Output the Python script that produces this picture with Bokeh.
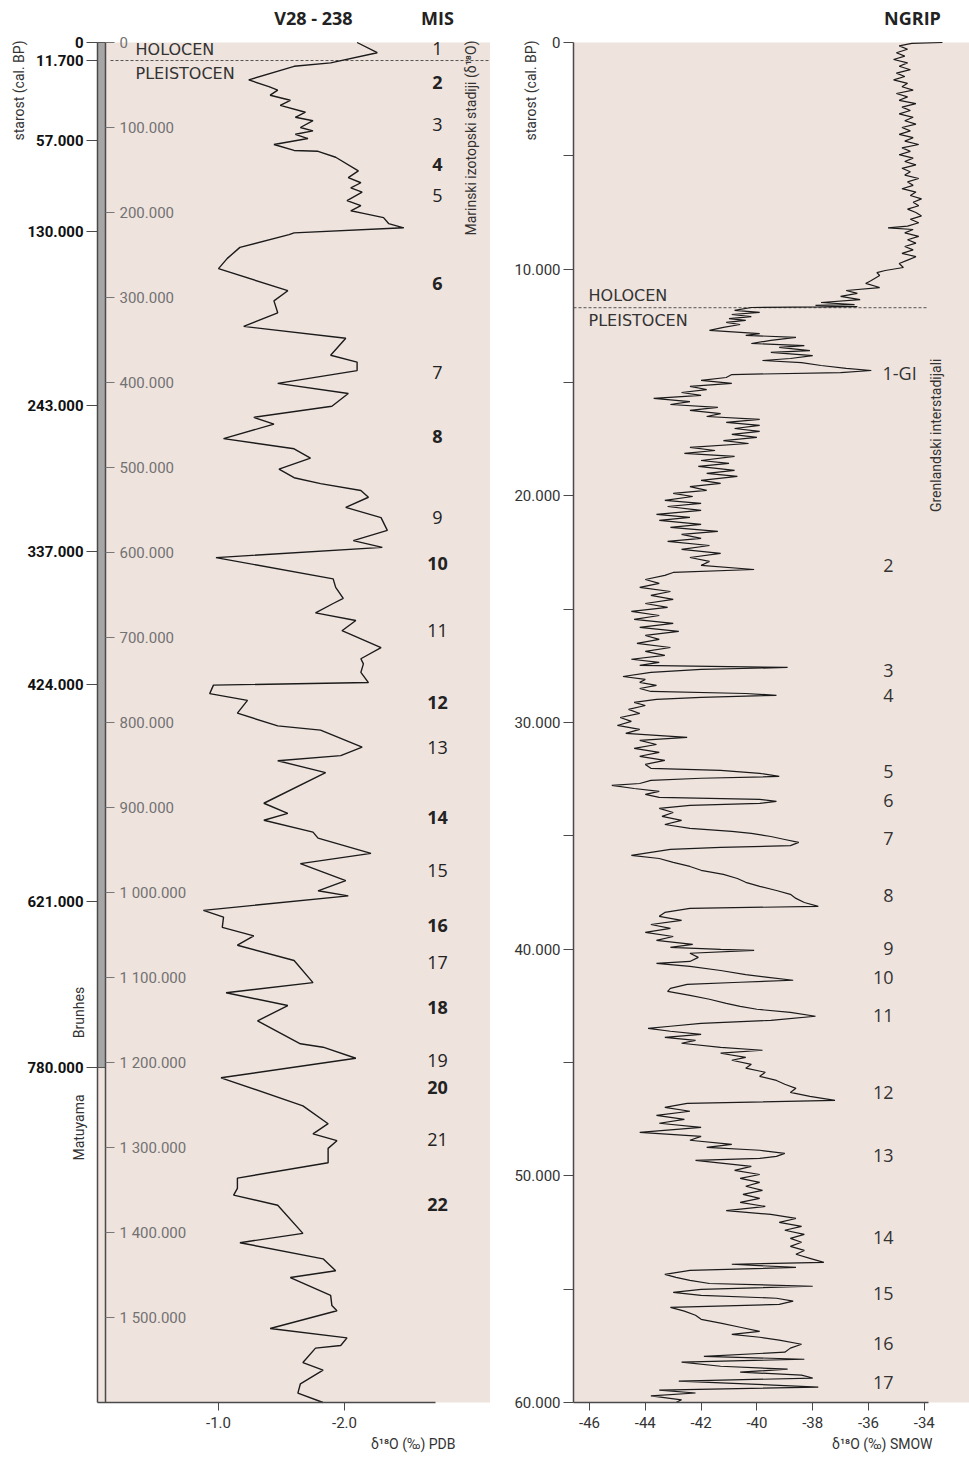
from math import pi
from bokeh.plotting import figure
from bokeh.models import Range1d, LinearAxis, FixedTicker, Label, ColumnDataSource, BoxAnnotation
from bokeh.layouts import row
from bokeh.embed import file_html
from bokeh.resources import INLINE
from bokeh.core.properties import value, field

# ---------------- V28-238 (marine core) ----------------
v28_depth = [0, 12000, 24000, 28000, 44000, 52000, 56000, 62000, 68000, 74000,
             82000, 88000, 92000, 100000, 104000, 108000, 113000, 120000, 127000, 128000,
             135000, 151000, 159000, 165000, 171000, 176000, 186000, 192000, 198000, 201000,
             206000, 213000, 218000, 224000, 226000, 241000, 254000, 266000, 292000, 304000,
             318000, 334000, 348000, 368000, 376000, 386000, 401000, 413000, 428000, 441000,
             449000, 466000, 478000, 489000, 502000, 512000, 519000, 527000, 535000, 547000,
             559000, 574000, 586000, 594000, 606000, 631000, 641000, 654000, 660000, 671000,
             680000, 692000, 712000, 725000, 731000, 741000, 753000, 756000, 766000, 774000,
             789000, 804000, 809000, 829000, 839000, 845000, 859000, 895000, 907000, 915000,
             929000, 936000, 954000, 966000, 986000, 998000, 1004000, 1021000, 1029000, 1041000,
             1051000, 1062000, 1080000, 1106000, 1118000, 1133000, 1151000, 1178000, 1182000, 1195000,
             1218000, 1251000, 1272000, 1284000, 1292000, 1301000, 1318000, 1336000, 1348000, 1356000,
             1368000, 1401000, 1412000, 1431000, 1445000, 1453000, 1474000, 1486000, 1492000, 1513000,
             1524000, 1533000, 1536000, 1553000, 1562000, 1578000, 1589000, 1600000]
v28_d18o = [-2.10, -2.26, -1.89, -1.60, -1.24, -1.40, -1.47, -1.41, -1.57, -1.49,
            -1.69, -1.61, -1.75, -1.65, -1.75, -1.61, -1.71, -1.44, -1.60, -1.79,
            -1.93, -2.11, -2.03, -2.13, -2.05, -2.14, -2.02, -2.13, -2.05, -2.15,
            -2.31, -2.35, -2.47, -1.60, -1.56, -1.17, -1.07, -1.00, -1.55, -1.44,
            -1.47, -1.20, -2.01, -1.89, -2.10, -2.10, -1.47, -2.03, -1.90, -1.28,
            -1.44, -1.04, -1.60, -1.73, -1.48, -1.60, -1.81, -2.13, -2.19, -2.01,
            -2.29, -2.34, -2.07, -2.30, -0.98, -1.91, -1.93, -1.99, -1.91, -1.77,
            -2.09, -1.98, -2.29, -2.13, -2.15, -2.13, -2.19, -0.96, -0.93, -1.23,
            -1.15, -1.47, -1.81, -2.14, -1.97, -1.47, -1.85, -1.36, -1.55, -1.36,
            -1.75, -1.79, -2.21, -1.65, -2.01, -1.79, -2.03, -0.88, -1.04, -1.03,
            -1.28, -1.15, -1.60, -1.75, -1.06, -1.55, -1.31, -1.65, -1.83, -2.09,
            -1.02, -1.67, -1.87, -1.75, -1.94, -1.87, -1.87, -1.15, -1.15, -1.12,
            -1.47, -1.67, -1.17, -1.83, -1.93, -1.57, -1.89, -1.90, -1.94, -1.41,
            -2.02, -1.97, -1.77, -1.67, -1.83, -1.65, -1.63, -1.83]

mis_labels = [str(i) for i in range(1, 23)]
mis_depth = [7000, 47000, 97000, 144000, 180000, 284000, 388000, 464000, 559000, 613000, 692000,
             776000, 829000, 912000, 974000, 1039000, 1082000, 1135000, 1198000, 1229000, 1291000, 1367000]

age_tick_depth = [0, 21200, 115300, 222400, 427100, 598800, 755300, 1010600, 1205900]
age_tick_labels = ["0", "11.700", "57.000", "130.000", "243.000", "337.000", "424.000", "621.000", "780.000"]
depth_ticks = [0, 100000, 200000, 300000, 400000, 500000, 600000, 700000, 800000,
               900000, 1000000, 1100000, 1200000, 1300000, 1400000, 1500000]
depth_labels = ["0", "100.000", "200.000", "300.000", "400.000", "500.000", "600.000", "700.000",
                "800.000", "900.000", "1 000.000", "1 100.000", "1 200.000", "1 300.000",
                "1 400.000", "1 500.000"]
depth_max = 1600000
pdb_ticks = [-1.0, -2.0]
pdb_labels = ["-1.0", "-2.0"]
holocene_depth = 21200
brunhes_depth = 1205900

# ---------------- NGRIP (ice core) ----------------
ngrip_age = [
    0, 40, 150, 300, 450, 600, 750, 900, 1050, 1200, 1350, 1500, 1650, 1800, 1950, 2100, 2250, 2400,
    2550, 2700, 2850, 3000, 3150, 3300, 3450, 3600, 3750, 3900, 4050, 4200, 4350, 4500, 4650, 4800,
    4950, 5100, 5250, 5400, 5550, 5700, 5850, 6000, 6150, 6300, 6450, 6600, 6750, 6900, 7050, 7200,
    7350, 7500, 7650, 7800, 7950, 8100, 8180, 8250, 8400, 8550, 8700, 8850, 9000, 9150, 9300, 9450,
    9600, 9750,
    9925, 10060, 10150, 10280, 10500, 10630, 10810, 10940, 11070, 11200, 11340, 11470, 11560, 11600,
    11650, 11690, 11820, 11910, 12000, 12090, 12180, 12260, 12350, 12440, 12570, 12700, 12840, 12920,
    13010, 13140, 13280, 13370, 13450, 13590, 13670, 13810, 13940, 14030, 14120, 14250, 14380, 14470,
    14560, 14650, 14780, 14910, 15040, 15170, 15310, 15440, 15570, 15700, 15840, 15970, 16100, 16230,
    16370, 16500, 16630, 16760, 16890, 17030, 17160, 17290, 17420, 17560, 17690, 17860, 18000, 18130,
    18260, 18440, 18570, 18700, 18880, 19010, 19140, 19320, 19450, 19590, 19760, 19890, 20030, 20200,
    20330, 20470, 20640, 20820, 20950, 21080, 21260, 21390, 21570, 21700, 21880, 22010, 22190, 22360,
    22540, 22720, 22890, 23070, 23250, 23380, 23510, 23690, 23860, 24040, 24220, 24390, 24570, 24750,
    24920, 25100, 25280, 25450, 25630, 25800, 25980, 26160, 26330, 26510, 26690, 26860, 27040, 27210,
    27350, 27480, 27570, 27660, 27790, 27970, 28100, 28230, 28360, 28500, 28630, 28720, 28800, 28890,
    28980, 29110, 29250, 29420, 29600, 29780, 29950, 30130, 30300, 30480, 30660, 30790, 30970, 31140,
    31320, 31490, 31670, 31850, 32020, 32110, 32240, 32380, 32460, 32550, 32690, 32770, 32910, 33040,
    33170, 33300, 33390, 33480, 33570, 33660, 33790, 33970, 34140, 34320, 34500, 34670, 34800, 34890,
    35030, 35160, 35290, 35430, 35510, 35600, 35730, 35860, 36000, 36170, 36350, 36520, 36700, 36880,
    37050, 37230, 37410, 37580, 37760, 37940, 38110, 38200, 38380, 38550, 38730, 38910, 39080, 39260,
    39440, 39610, 39790, 39920, 40010, 40050, 40180, 40360, 40540, 40630, 40760, 40940, 41120, 41240,
    41370, 41460, 41550, 41730, 41860, 42040, 42210, 42390, 42520, 42650, 42790, 42960, 43140, 43270,
    43400, 43490, 43620, 43760, 43890, 44020, 44150, 44330, 44460, 44590, 44770, 44900, 45080, 45250,
    45430, 45610, 45790, 45960, 46140, 46320, 46490, 46670, 46800, 46980, 47150, 47330, 47510, 47680,
    47860, 48080, 48260, 48430, 48610, 48740, 48870, 49010, 49140, 49230, 49320, 49450, 49580, 49760,
    49940, 50110, 50290, 50460, 50640, 50820, 50990, 51170, 51350, 51530, 51700, 51880, 52050, 52230,
    52400, 52580, 52760, 52930, 53110, 53290, 53460, 53640, 53820, 53900, 54040, 54170, 54350, 54480,
    54610, 54750, 54870, 55010, 55140, 55270, 55400, 55530, 55670, 55800, 55970, 56150, 56330, 56500,
    56680, 56860, 56990, 57120, 57250, 57430, 57600, 57780, 57960, 58090, 58220, 58400, 58530, 58660,
    58790, 58920, 59060, 59190, 59320, 59450, 59580, 59710, 59880, 60000]
ngrip_d18o = [
    -33.35, -34.45, -34.9, -34.6, -35.0, -34.7, -35.1, -34.6, -34.9, -34.5, -35.0, -34.7, -35.1, -34.6,
    -34.8, -34.4, -35.0, -34.6, -34.9, -34.3, -34.8, -34.5, -34.9, -34.4, -34.7, -34.3, -34.8, -34.5,
    -34.9, -34.4, -34.7, -34.2, -34.8, -34.5, -34.9, -34.4, -34.7, -34.3, -34.8, -34.5, -34.7, -34.2,
    -34.6, -34.4, -34.8, -34.3, -34.5, -34.1, -34.4, -34.2, -34.6, -34.3, -34.1, -34.5, -34.2, -34.6,
    -35.3, -34.4, -34.7, -34.2, -34.6, -34.3, -34.7, -34.4, -34.8, -34.3, -34.6, -34.9,
    -34.75, -35.4, -35.7, -35.6, -35.9, -36.1, -35.6, -36.8, -36.4, -37.0, -36.3, -37.7, -36.5, -37.9,
    -36.4, -40.2, -40.8, -39.9, -40.9, -40.2, -41.0, -40.4, -41.1, -40.6, -41.2, -41.7, -39.9, -40.4,
    -38.6, -39.5, -40.2, -38.3, -39.2, -38.1, -39.5, -38.0, -38.8, -39.8, -38.4, -37.7, -36.8, -35.9,
    -37.0, -40.9, -41.1, -42.0, -40.9, -42.4, -41.8, -42.7, -42.0, -43.7, -42.4, -43.1, -41.4, -42.4,
    -41.3, -41.8, -39.9, -41.1, -39.9, -40.8, -39.9, -40.9, -40.0, -41.2, -40.3, -42.4, -41.5, -42.6,
    -40.8, -42.0, -41.0, -42.1, -40.8, -41.8, -40.7, -42.0, -41.3, -42.4, -41.8, -43.0, -42.3, -43.3,
    -42.0, -43.2, -42.0, -43.6, -42.4, -43.5, -42.0, -43.1, -41.4, -42.7, -42.0, -43.2, -41.7, -42.7,
    -41.3, -42.4, -41.7, -42.0, -40.1, -43.0, -43.3, -44.0, -43.5, -44.2, -43.1, -43.8, -43.0, -44.0,
    -43.2, -44.5, -43.5, -44.4, -43.0, -44.2, -42.8, -44.0, -43.5, -44.3, -43.1, -44.0, -43.3, -44.5,
    -43.5, -44.2, -38.9, -42.0, -43.8, -44.8, -44.0, -44.2, -43.6, -44.2, -43.8, -40.4, -39.3, -42.0,
    -43.6, -44.4, -44.0, -44.6, -44.2, -44.9, -44.5, -45.0, -44.2, -44.7, -42.5, -44.2, -43.6, -44.4,
    -43.5, -44.2, -43.3, -44.0, -43.8, -41.3, -39.9, -39.2, -42.0, -43.8, -44.2, -45.2, -44.4, -43.5,
    -44.0, -43.5, -39.9, -39.3, -39.9, -42.4, -43.5, -43.0, -43.4, -42.7, -43.3, -42.4, -40.9, -40.2,
    -39.5, -39.0, -38.5, -38.8, -41.3, -43.1, -43.8, -44.5, -43.5, -43.0, -42.4, -42.0, -41.2, -40.7,
    -40.4, -39.9, -39.3, -38.8, -38.6, -38.3, -37.8, -42.4, -43.3, -43.5, -42.7, -43.8, -43.1, -44.0,
    -43.0, -43.6, -42.3, -43.1, -41.3, -40.1, -42.4, -42.1, -42.4, -43.6, -42.4, -41.3, -40.4, -39.6,
    -38.7, -40.6, -42.5, -43.1, -43.2, -42.4, -41.7, -41.1, -40.6, -40.0, -38.8, -37.9, -39.5, -42.0,
    -43.1, -43.9, -43.1, -42.0, -43.3, -42.2, -42.7, -41.3, -39.8, -41.3, -40.4, -40.9, -40.2, -40.4,
    -39.7, -39.9, -39.3, -39.0, -38.6, -38.8, -38.1, -37.2, -42.5, -43.3, -42.4, -43.6, -42.6, -43.5,
    -42.0, -44.2, -42.0, -42.4, -40.9, -41.8, -39.9, -39.0, -39.3, -39.9, -42.2, -41.2, -40.2, -40.8,
    -39.9, -40.6, -39.9, -40.4, -39.8, -40.5, -39.9, -40.6, -39.7, -41.1, -39.5, -38.6, -39.2, -38.4,
    -39.0, -38.3, -38.8, -38.4, -38.8, -38.3, -38.6, -38.1, -37.6, -40.9, -38.6, -42.4, -43.3, -42.9,
    -42.4, -41.7, -38.0, -42.0, -43.0, -42.0, -39.3, -38.7, -39.2, -43.1, -42.6, -42.2, -42.0, -41.3,
    -40.6, -39.9, -40.9, -39.9, -39.2, -38.4, -38.8, -39.0, -41.9, -38.3, -42.7, -41.3, -38.9, -40.6,
    -38.4, -38.0, -42.8, -40.2, -37.8, -43.5, -42.2, -43.8, -42.7, -42.9]

gi_labels = ["1-GI", "2", "3", "4", "5", "6", "7", "8", "9", "10", "11", "12", "13", "14", "15", "16", "17"]
gi_age = [14560, 23070, 27700, 28800, 32160, 33440, 35110, 37630, 39960, 41240, 42920,
          46320, 49100, 52710, 55180, 57390, 59110]
smow_ticks = [-46, -44, -42, -40, -38, -36, -34]
smow_labels = ["-46", "-44", "-42", "-40", "-38", "-36", "-34"]
ngrip_age_ticks = [0, 10000, 20000, 30000, 40000, 50000, 60000]
ngrip_age_labels = ["0", "10.000", "20.000", "30.000", "40.000", "50.000", "60.000"]
ngrip_minor_ticks = [5000, 15000, 25000, 35000, 45000, 55000]
ngrip_age_max = 60000
holocene_age = 11700

# ---------------- styling ----------------
PINK = "#efe3de"
INK = "#1b1b1b"
TICKF = "Roboto"
HUM = "Open Sans"
CAPS = "DejaVu Sans"
H = 1456


def lx(px):      # left panel: page x -> d18O PDB
    return -(px - 92) / 126.0


def ly(py):      # left panel: page y -> depth
    return (py - 42) / 0.85 * 1000.0


def rx(px):      # right panel: page x -> d18O SMOW
    return -46 + (px - 589) / 27.9


def ry(py):      # right panel: page y -> age
    return (py - 42) / 22.667 * 1000.0


def style_axis(ax, font_size="15px", color="#333", bold=False):
    ax.axis_line_color = "#4a4a4a"
    ax.axis_line_width = 1.5
    ax.major_tick_line_color = "#4a4a4a"
    ax.major_tick_in = 0
    ax.minor_tick_line_color = None
    ax.major_label_text_font = TICKF
    ax.major_label_text_font_size = font_size
    ax.major_label_text_color = color
    if bold:
        ax.major_label_text_font_style = "bold"


def add_label(p, x, y, text, size="14px", font=TICKF, align="center", angle=0.0,
              color="#222", style="normal"):
    p.add_layout(Label(x=x, y=y, text=text, text_font=font, text_font_size=size,
                       text_align=align, text_baseline="middle", angle=angle,
                       text_color=color, text_font_style=style))


def base_fig(width, xr, yr):
    p = figure(width=width, height=H, min_border=0, x_range=xr, y_range=yr,
               x_axis_location=None, y_axis_location=None,
               output_backend="svg", toolbar_location=None,
               background_fill_color="white", border_fill_color="white", outline_line_color=None)
    p.grid.visible = False
    return p


# ================= LEFT PANEL =================
p1 = base_fig(490, Range1d(lx(0), lx(490)), Range1d(ly(H), ly(0)))

p1.add_layout(BoxAnnotation(left=lx(97), right=lx(490), top=0, bottom=depth_max,
                            fill_color=PINK, fill_alpha=1, line_color=None, level="underlay"))
# magnetic polarity bar (Brunhes normal, grey)
p1.quad(left=lx(97), right=lx(105), top=0, bottom=brunhes_depth,
        fill_color="#a6a6a6", line_color="#555555", line_width=1)

p1.segment(x0=[lx(110)], y0=[holocene_depth], x1=[lx(490)], y1=[holocene_depth],
           line_color="#555555", line_width=1, line_dash="3 2")

p1.line(x=v28_d18o, y=v28_depth, line_color=INK, line_width=1.4)

xa = LinearAxis(fixed_location=depth_max, ticker=FixedTicker(ticks=pdb_ticks, minor_ticks=[]),
                major_label_overrides=dict(zip(pdb_ticks, pdb_labels)), bounds=(lx(435), lx(97)))
style_axis(xa)
xa.major_tick_out = 8
xa.major_label_standoff = 6
p1.add_layout(xa, "below")

ya = LinearAxis(fixed_location=lx(97), ticker=FixedTicker(ticks=age_tick_depth, minor_ticks=[]),
                major_label_overrides=dict(zip(age_tick_depth, age_tick_labels)), bounds=(0, depth_max))
style_axis(ya, color="#111", bold=True)
ya.major_tick_out = 11
ya.major_label_standoff = 3
p1.add_layout(ya, "left")

inner = LinearAxis(fixed_location=lx(105), ticker=FixedTicker(ticks=depth_ticks, minor_ticks=[]),
                   major_label_overrides=dict(zip(depth_ticks, depth_labels)), bounds=(0, depth_max))
style_axis(inner, color="#727272")
inner.major_tick_line_color = "#777777"
inner.major_tick_out = 9
inner.major_label_standoff = 5
p1.add_layout(inner, "right")

mis_src = ColumnDataSource(dict(y=mis_depth, text=mis_labels,
                                style=["bold" if int(m) % 2 == 0 else "normal" for m in mis_labels]))
p1.text(x=lx(437), y="y", text="text", source=mis_src, text_font=value(HUM),
        text_font_size="18px", text_font_style=field("style"), text_align="center",
        text_baseline="middle", text_color="#222")

add_label(p1, lx(135), ly(49), "HOLOCEN", size="16px", font=CAPS, align="left", color="#333")
add_label(p1, lx(135), ly(73), "PLEISTOCEN", size="16px", font=CAPS, align="left", color="#333")
add_label(p1, lx(470), ly(40), "Marinski izotopski stadiji (δ¹⁸O)", align="right", angle=pi / 2, color="#333")
add_label(p1, lx(313), ly(17), "V28 - 238", size="18px", font=HUM, style="bold")
add_label(p1, lx(437), ly(17), "MIS", size="18px", font=HUM, style="bold")
add_label(p1, lx(18), ly(40), "starost (cal. BP)", align="right", angle=pi / 2, color="#333")
add_label(p1, lx(78), ly(1012), "Brunhes", angle=pi / 2, color="#333")
add_label(p1, lx(78), ly(1127), "Matuyama", angle=pi / 2, color="#333")
add_label(p1, lx(455), ly(1443), "δ¹⁸O (‰) PDB", align="right", color="#333")

# ================= RIGHT PANEL =================
p2 = base_fig(479, Range1d(rx(490), rx(969)), Range1d(ry(H), ry(0)))

p2.add_layout(BoxAnnotation(left=rx(573), right=rx(969), top=0, bottom=ngrip_age_max,
                            fill_color=PINK, fill_alpha=1, line_color=None, level="underlay"))
p2.segment(x0=[rx(573)], y0=[holocene_age], x1=[rx(928)], y1=[holocene_age],
           line_color="#555555", line_width=1, line_dash="3 2")
p2.line(x=ngrip_d18o, y=ngrip_age, line_color=INK, line_width=1.2)

xb = LinearAxis(fixed_location=ngrip_age_max, ticker=FixedTicker(ticks=smow_ticks, minor_ticks=[]),
                major_label_overrides=dict(zip(smow_ticks, smow_labels)), bounds=(rx(573), rx(928)))
style_axis(xb)
xb.major_tick_out = 8
xb.major_label_standoff = 6
p2.add_layout(xb, "below")

yb = LinearAxis(fixed_location=rx(573),
                ticker=FixedTicker(ticks=ngrip_age_ticks, minor_ticks=ngrip_minor_ticks),
                major_label_overrides=dict(zip(ngrip_age_ticks, ngrip_age_labels)),
                bounds=(0, ngrip_age_max))
style_axis(yb)
yb.major_tick_out = 10
yb.minor_tick_line_color = "#4a4a4a"
yb.minor_tick_out = 10
yb.minor_tick_in = 0
yb.major_label_standoff = 3
p2.add_layout(yb, "left")

p2.text(x=rx(893), y=gi_age[1:], text=gi_labels[1:], text_font=value(HUM), text_font_size="18px",
        text_align="right", text_baseline="middle", text_color="#333")
p2.text(x=rx(882), y=gi_age[:1], text=gi_labels[:1], text_font=value(HUM), text_font_size="18px",
        text_align="left", text_baseline="middle", text_color="#333")

add_label(p2, rx(588), ry(295), "HOLOCEN", size="16px", font=CAPS, align="left", color="#333")
add_label(p2, rx(588), ry(320), "PLEISTOCEN", size="16px", font=CAPS, align="left", color="#333")
add_label(p2, rx(935), ry(358), "Grenlandski interstadijali", align="right", angle=pi / 2, color="#333")
add_label(p2, rx(912), ry(17), "NGRIP", size="18px", font=HUM, style="bold")
add_label(p2, rx(530), ry(40), "starost (cal. BP)", align="right", angle=pi / 2, color="#333")
add_label(p2, rx(932), ry(1443), "δ¹⁸O (‰) SMOW", align="right", color="#333")

layout = row(p1, p2)
open("out.html", "w").write(file_html(layout, INLINE))
